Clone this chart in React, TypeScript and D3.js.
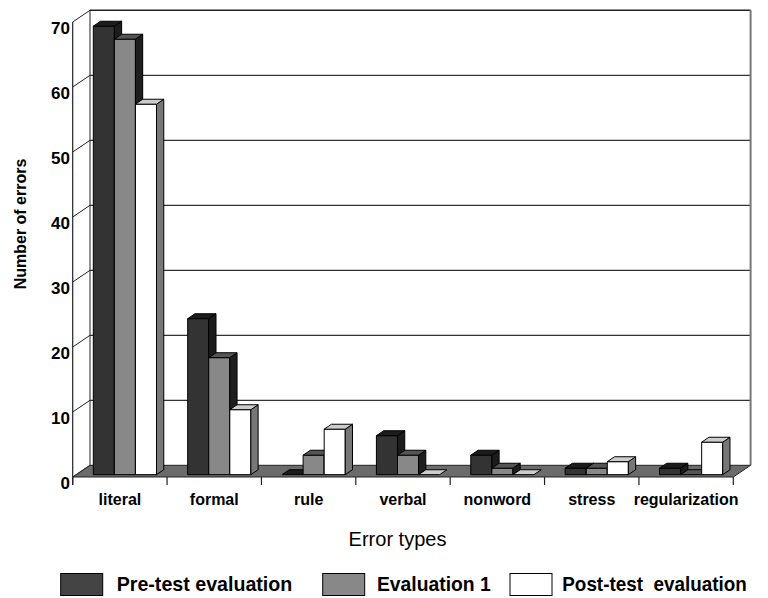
import React, { useRef, useEffect } from 'react';
import * as d3 from 'd3';

const categories = ['literal', 'formal', 'rule', 'verbal', 'nonword', 'stress', 'regularization'];
const seriesNames = ['Pre-test evaluation', 'Evaluation 1', 'Post-test  evaluation'];
const preTest = [69, 24, 0, 6, 3, 1, 1];
const evaluation1 = [67, 18, 3, 3, 1, 1, 0];
const postTest = [57, 10, 7, 0, 0, 2, 5];
const yTicks = [0, 10, 20, 30, 40, 50, 60, 70];

const W = 768;
const H = 598;
const FONT = '"Liberation Sans", Arial, Helvetica, sans-serif';

// face colours per series: front, top, side
const faces = [
  { front: '#333333', top: '#1c1c1c', side: '#1c1c1c', swatch: '#444444' },
  { front: '#888888', top: '#555555', side: '#1e1e1e', swatch: '#888888' },
  { front: '#ffffff', top: '#cccccc', side: '#777777', swatch: '#ffffff' },
];

export default function App() {
  const svgRef = useRef<SVGSVGElement>(null);

  useEffect(() => {
    if (!svgRef.current) return;
    const svg = d3.select(svgRef.current);
    svg.selectAll('*').remove();

    const values = [preTest, evaluation1, postTest];

    // floor depth vector (front -> back)
    const DX = 17.3;
    const DY = -11.7;
    const t0 = 0.2; // bar front depth
    const t1 = 0.62; // bar back depth

    const x0 = d3.scaleBand<string>().domain(categories).range([72.7, 733.3]).padding(0);
    const x1 = d3.scaleBand<string>()
      .domain(seriesNames)
      .range([0, x0.bandwidth()])
      .paddingInner(0)
      .paddingOuter(0.74)
      .align(0.55);
    const y = d3.scaleLinear().domain([0, 70]).range([477, 22]);

    const P = (x: number, v: number, t: number): [number, number] => [x + t * DX, y(v) + t * DY];
    const poly = (pts: [number, number][]) => pts.map(p => p.join(',')).join(' ');

    const xL = x0.range()[0];
    const xR = x0.range()[1];

    const g = svg.append('g');

    // back wall
    const wTL = P(xL, 70, 1);
    const wBR = P(xR, 0, 1);
    g.append('rect')
      .attr('x', wTL[0]).attr('y', wTL[1])
      .attr('width', wBR[0] - wTL[0]).attr('height', wBR[1] - wTL[1])
      .attr('fill', '#fff');

    // gridlines on back wall
    g.selectAll('line.grid')
      .data(yTicks.filter(v => v > 0 && v < 70))
      .join('line')
      .attr('class', 'grid')
      .attr('x1', d => P(xL, d, 1)[0]).attr('x2', d => P(xR, d, 1)[0])
      .attr('y1', d => P(xL, d, 1)[1]).attr('y2', d => P(xR, d, 1)[1])
      .attr('stroke', '#333').attr('stroke-width', 1.2);

    // wall borders
    g.append('line')
      .attr('x1', wTL[0]).attr('y1', wTL[1]).attr('x2', wBR[0]).attr('y2', wTL[1])
      .attr('stroke', '#222').attr('stroke-width', 1.5);
    g.append('line')
      .attr('x1', wBR[0]).attr('y1', wTL[1]).attr('x2', wBR[0]).attr('y2', wBR[1])
      .attr('stroke', '#777').attr('stroke-width', 2);
    g.append('line')
      .attr('x1', wTL[0]).attr('y1', wTL[1]).attr('x2', wTL[0]).attr('y2', wBR[1])
      .attr('stroke', '#222').attr('stroke-width', 1);

    // side ticks (front axis -> back wall)
    g.selectAll('line.sidetick')
      .data(yTicks)
      .join('line')
      .attr('class', 'sidetick')
      .attr('x1', d => P(xL, d, 0)[0]).attr('y1', d => P(xL, d, 0)[1])
      .attr('x2', d => P(xL, d, 1)[0]).attr('y2', d => P(xL, d, 1)[1])
      .attr('stroke', '#222').attr('stroke-width', 1);

    // front vertical axis
    g.append('line')
      .attr('x1', xL).attr('y1', y(70)).attr('x2', xL).attr('y2', y(0) + 8)
      .attr('stroke', '#222').attr('stroke-width', 1.2);

    // floor
    g.append('polygon')
      .attr('points', poly([P(xL, 0, 0), P(xR, 0, 0), P(xR, 0, 1), P(xL, 0, 1)]))
      .attr('fill', '#6b6b6b')
      .attr('stroke', '#222')
      .attr('stroke-width', 1);

    // category ticks under floor
    const bounds = categories.map(c => x0(c)!).concat([xR]);
    g.selectAll('line.cattick')
      .data(bounds)
      .join('line')
      .attr('class', 'cattick')
      .attr('x1', d => d).attr('x2', d => d)
      .attr('y1', y(0)).attr('y2', y(0) + 8)
      .attr('stroke', '#222').attr('stroke-width', 1.2);

    // bars
    const ddx = (t1 - t0) * DX;
    const ddy = (t1 - t0) * DY;
    const bw = x1.bandwidth();
    categories.forEach((c, ci) => {
      seriesNames.forEach((s, si) => {
        const v = values[si][ci];
        const bx = x0(c)! + x1(s)! + t0 * DX;
        const yTop = y(v) + t0 * DY;
        const yBot = y(0) + t0 * DY;
        const f = faces[si];
        const bar = g.append('g').attr('stroke', '#000').attr('stroke-width', 1).attr('stroke-linejoin', 'round');
        if (v > 0) {
          bar.append('rect')
            .attr('x', bx).attr('y', yTop).attr('width', bw).attr('height', yBot - yTop)
            .attr('fill', f.front);
          bar.append('polygon')
            .attr('points', poly([[bx + bw, yTop], [bx + bw + ddx, yTop + ddy], [bx + bw + ddx, yBot + ddy], [bx + bw, yBot]]))
            .attr('fill', f.side);
        }
        bar.append('polygon')
          .attr('points', poly([[bx, yTop], [bx + ddx, yTop + ddy], [bx + bw + ddx, yTop + ddy], [bx + bw, yTop]]))
          .attr('fill', f.top);
      });
    });

    // y tick labels
    g.selectAll('text.ylabel')
      .data(yTicks)
      .join('text')
      .attr('class', 'ylabel')
      .attr('x', 70)
      .attr('y', d => y(d) + 11.8)
      .attr('text-anchor', 'end')
      .style('font-family', FONT)
      .style('font-size', '17px')
      .style('font-weight', 'bold')
      .text(d => d);

    // y axis title
    g.append('text')
      .attr('transform', 'translate(26,224) rotate(-90)')
      .attr('text-anchor', 'middle')
      .style('font-family', FONT)
      .style('font-size', '16px')
      .style('font-weight', 'bold')
      .text('Number of errors');

    // category labels
    g.selectAll('text.xlabel')
      .data(categories)
      .join('text')
      .attr('class', 'xlabel')
      .attr('x', d => x0(d)! + x0.bandwidth() / 2)
      .attr('y', 505)
      .attr('text-anchor', 'middle')
      .style('font-family', FONT)
      .style('font-size', '16px')
      .style('font-weight', 'bold')
      .text(d => d);

    // x axis title
    g.append('text')
      .attr('x', 397.5)
      .attr('y', 546)
      .attr('text-anchor', 'middle')
      .style('font-family', FONT)
      .style('font-size', '20px')
      .text('Error types');

    // legend
    const legendItems = [
      { sx: 60.7, tx: 116.7, tw: 175.6 },
      { sx: 322.7, tx: 377, tw: 113.7 },
      { sx: 510, tx: 562.3, tw: 184.4 },
    ];
    seriesNames.forEach((s, i) => {
      const it = legendItems[i];
      g.append('rect')
        .attr('x', it.sx).attr('y', 573.5).attr('width', 42).attr('height', 22)
        .attr('fill', faces[i].swatch)
        .attr('stroke', '#000').attr('stroke-width', 1);
      g.append('text')
        .attr('x', it.tx).attr('y', 590.5)
        .attr('textLength', it.tw)
        .attr('lengthAdjust', 'spacingAndGlyphs')
        .style('font-family', FONT)
        .style('font-size', '21px')
        .style('font-weight', 'bold')
        .style('white-space', 'pre')
        .text(s);
    });
  }, []);

  return (
    <svg
      ref={svgRef}
      width={W}
      height={H}
      style={{ position: 'absolute', left: 0, top: 0, background: '#fff' }}
    />
  );
}
